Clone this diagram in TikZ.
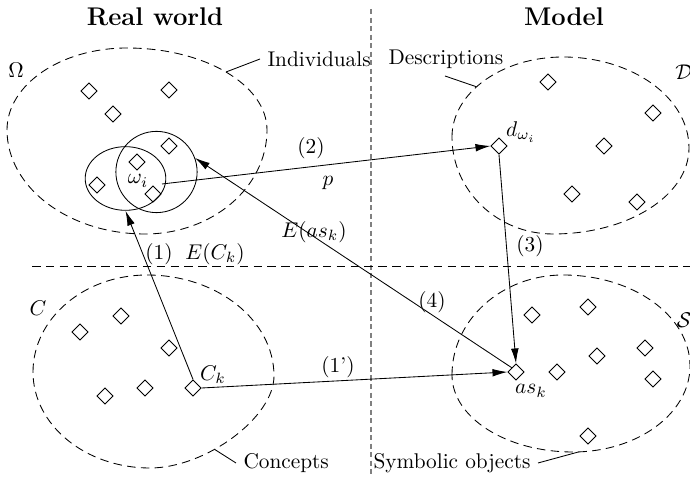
\documentclass[tikz,border=0pt]{standalone}
\usetikzlibrary{shapes.geometric,arrows.meta}

\tikzset{
  obj/.style={draw, diamond, inner sep=0pt, minimum width=0.27cm, minimum height=0.27cm},
  blob/.style={dash pattern=on 4pt off 2.5pt},
  sep/.style={gray, line width=0.8pt, dash pattern=on 2.4pt off 1.6pt},
  arr/.style={-{Latex[length=7pt,width=3.6pt]}},
  title/.style={font=\large\bfseries},
}

\begin{document}
\begin{tikzpicture}[x=0.0165cm, y=-0.0165cm]
  \useasboundingbox (0,0) rectangle (690,478);
  % separators
  \coordinate (vtop) at (371,9);
  \coordinate (vbot) at (371,478);
  \coordinate (hleft) at (32,266);
  \coordinate (hright) at (690,266);
  \draw[sep] (vtop) -- (vbot);
  \draw[blob] (hleft) -- (hright);
  \node[title] (real) at (155,17) {Real world};
  \node[title] (model) at (564,17) {Model};

  % sets
  \draw[blob] (7,130) .. controls (7,84.7) and (60.8,48) .. (127,48)
    .. controls (204.3,48) and (267,84.7) .. coordinate[pos=0.5] (OmegaTR) (267,130)
    .. controls (267,187.4) and (212.3,234) .. (145,234)
    .. controls (68.8,234) and (7,187.4) .. (7,130);
  \draw[blob] (452,137) .. controls (452,92.8) and (501.7,57) .. coordinate[pos=0.43] (DsetTL) (563,57)
    .. controls (632.6,57) and (689,97.8) .. (689,148)
    .. controls (689,195.5) and (628.1,234) .. (553,234)
    .. controls (497.2,234) and (452,190.5) .. (452,137);
  \draw[blob] (33,372) .. controls (33,318.5) and (84.1,275) .. (147,275)
    .. controls (217.1,275) and (274,320.2) .. (274,376)
    .. controls (274,417.4) and (205.8,468) .. coordinate[pos=0.62] (CsetB) (150,468)
    .. controls (85.4,468) and (33,425) .. (33,372);
  \draw[blob] (452,375) .. controls (452,319.8) and (501.7,275) .. (563,275)
    .. controls (633.1,275) and (690,315.8) .. (690,366)
    .. controls (690,413.5) and (637.6,452) .. coordinate[pos=0.97] (SsetB) (573,452)
    .. controls (506.2,452) and (452,417.5) .. (452,375);
  \node (Omega) at (16,70) {$\Omega$};
  \node (Dset) at (684,72) {$\mathcal{D}$};
  \node (Cset) at (38,308) {$C$};
  \node (Sset) at (684,320) {$\mathcal{S}$};

  % individuals
  \node[obj] (i1) at (89,91) {};
  \node[obj] (i2) at (113,114) {};
  \node[obj] (i3) at (169,90) {};
  \node[obj] (i4) at (169,146) {};
  \node[obj] (i5) at (137,162) {};
  \node[obj] (i6) at (97,185) {};
  \node[obj] (i7) at (153,194) {};
  \node[draw, ellipse, inner sep=0pt, minimum width=1.33cm, minimum height=1.05cm] (indA) at (125.5,178.5) {};
  \node[draw, circle, inner sep=0pt, minimum size=1.34cm] (indB) at (156.5,172) {};
  \node (omegai) at (138,181) {$\omega_i$};
  \coordinate (wi) at (162,184);

  % descriptions
  \node[obj] (dw) at (499,146) {};
  \node[obj] (d1) at (548,82) {};
  \node[obj] (d2) at (653,113) {};
  \node[obj] (d3) at (604,146) {};
  \node[obj] (d4) at (572,194) {};
  \node[obj] (d5) at (637,202) {};
  \node (dwlab) at (521,132) {$d_{\omega_i}$};

  % concepts
  \node[obj] (Ck) at (193,388) {};
  \node[obj] (c1) at (80,332) {};
  \node[obj] (c2) at (121,316) {};
  \node[obj] (c3) at (169,348) {};
  \node[obj] (c4) at (145,388) {};
  \node[obj] (c5) at (105,396) {};
  \node (Cklab) at (213,375) {$C_k$};

  % symbolic objects
  \node[obj] (ask) at (516,372) {};
  \node[obj] (s1) at (532,315) {};
  \node[obj] (s2) at (588,307) {};
  \node[obj] (s3) at (645,348) {};
  \node[obj] (s4) at (597,356) {};
  \node[obj] (s5) at (557,372) {};
  \node[obj] (s6) at (653,379) {};
  \node[obj] (s7) at (588,436) {};
  \node (asklab) at (531,391) {$as_k$};

  % arrows
  \draw[arr] (wi) -- (dw.west);
  \draw[arr] (dw.south) -- (ask.north);
  \draw[arr] (Ck.north) -- (indA.south);
  \draw[arr] (Ck.east) -- (ask.west);
  \draw[arr] (ask.north west) -- (indB.20);
  \node (l2) at (311,148) {(2)};
  \node (lp) at (328,183) {$p$};
  \node (lEas) at (314,232) {$E(as_k)$};
  \node (l1) at (159,254) {(1)};
  \node (lEC) at (215,254) {$E(C_k)$};
  \node (l3) at (530,246) {(3)};
  \node (l4) at (432,302) {(4)};
  \node (l1p) at (338,367) {(1')};

  % names
  \node[anchor=west] (indiv) at (260,59) {Individuals};
  \node[anchor=west] (descr) at (381,59) {Descriptions};
  \node[anchor=west] (conc) at (236,463) {Concepts};
  \node[anchor=east] (symb) at (538,463) {Symbolic objects};
  \draw (OmegaTR) -- (indiv.west);
  \draw (DsetTL) -- (445,76);
  \draw (CsetB) -- (conc.west);
  \draw (SsetB) -- (symb.east);
\end{tikzpicture}
\end{document}
